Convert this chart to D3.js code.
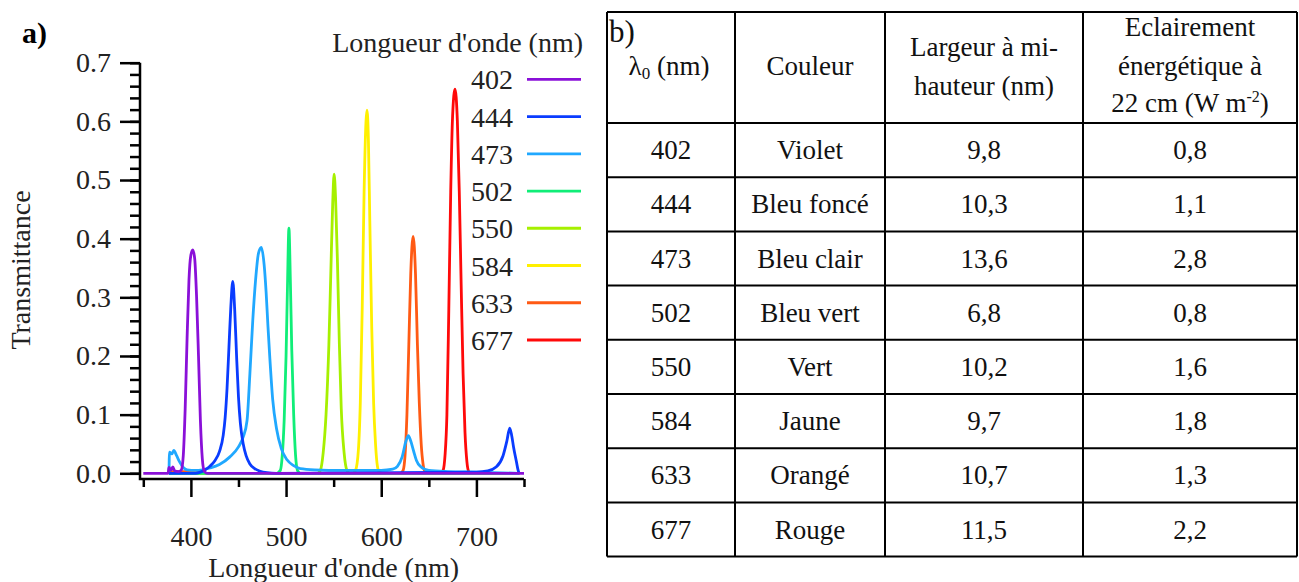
<!DOCTYPE html>
<html>
<head>
<meta charset="utf-8">
<script src="https://cdn.jsdelivr.net/npm/d3@7"></script>
<style>
  body { margin: 0; background: #fff; }
  svg { display: block; font-family: "Liberation Serif", "DejaVu Serif", serif; }
  .axis path, .axis line { stroke: #000; stroke-width: 2.5px; }
  .axis text { font-size: 28px; fill: #222; font-family: "Liberation Serif", serif; }
</style>
</head>
<body>
<svg id="fig"></svg>
<script>
// ---- data ----
const wavelengths = [402, 444, 473, 502, 550, 584, 633, 677];
const lineColors = ["#8a10d8", "#0a3cff", "#20a8ff", "#10ee78", "#a6f000", "#fff000", "#ff5a14", "#ff0a0a"];
const colourNames = ["Violet", "Bleu foncé", "Bleu clair", "Bleu vert", "Vert", "Jaune", "Orangé", "Rouge"];
const halfWidths = ["9,8", "10,3", "13,6", "6,8", "10,2", "9,7", "10,7", "11,5"];
const irradiance = ["0,8", "1,1", "2,8", "0,8", "1,6", "1,8", "1,3", "2,2"];

const yTickValues = [0, 0.1, 0.2, 0.3, 0.4, 0.5, 0.6, 0.7];
const xTickValues = [400, 500, 600, 700];

// transmittance spectra [nm, T]
const spec402 = [[350,0],[376,0],[377,0.01],[379,0.005],[381,0.011],[383,0.004],[387,0.003],[390,0.006],
  [392,0.03],[394,0.11],[396,0.23],[398,0.33],[400,0.372],[402,0.381],[404,0.366],[406,0.3],[408,0.2],
  [410,0.09],[412,0.025],[414,0.004],[417,0],[750,0]];
const spec444 = [[377,0],[405,0],[410,0.002],[415,0.006],[420,0.012],[425,0.021],[430,0.037],[434,0.065],
  [436,0.095],[438,0.145],[440,0.215],[442,0.285],[444,0.327],[446,0.28],[448,0.2],[450,0.13],[452,0.085],
  [455,0.05],[458,0.03],[462,0.016],[467,0.008],[472,0.004],[480,0.001],[490,0],[700,0.002],[712,0.004],
  [721,0.011],[728,0.03],[732,0.055],[735,0.077],[737,0.065],[739,0.045],[742,0.02],[744,0.004],[745,0]];
const spec473 = [[377,0],[377.5,0.036],[380,0.033],[382,0.039],[385,0.03],[388,0.02],[392,0.01],[396,0.006],
  [405,0.005],[412,0.006],[420,0.009],[430,0.015],[441,0.028],[450,0.045],[455,0.062],[459,0.09],[462,0.17],
  [465,0.26],[468,0.33],[471,0.375],[474,0.385],[477,0.355],[479,0.31],[481,0.25],[483,0.195],[486,0.125],
  [490,0.076],[495,0.042],[501,0.023],[508,0.013],[515,0.008],[530,0.006],[560,0.005],[600,0.005],[612,0.007],
  [617,0.012],[622,0.028],[626,0.055],[628.5,0.064],[631,0.055],[634,0.038],[637,0.022],[641,0.012],
  [650,0.005],[670,0.003],[700,0.002],[745,0]];
const spec502 = [[377,0],[490,0],[494,0.005],[496,0.03],[498,0.09],[500,0.2],[501.5,0.32],[503,0.418],
  [504.5,0.33],[506,0.21],[508,0.1],[510,0.03],[512,0.005],[515,0],[745,0]];
const spec550 = [[377,0],[533,0],[536,0.005],[539,0.035],[542,0.1],[545,0.22],[547,0.34],[549,0.46],
  [550.5,0.51],[552,0.47],[554,0.36],[556,0.22],[558,0.11],[561,0.035],[564,0.005],[567,0],[745,0]];
const spec584 = [[377,0],[570,0],[573,0.005],[576,0.04],[578,0.12],[580,0.28],[582,0.48],[584,0.6],
  [585,0.619],[586.5,0.57],[588,0.43],[590,0.25],[592,0.12],[594,0.05],[596,0.012],[598,0.002],[601,0],[745,0]];
const spec633 = [[377,0],[378,0.003],[412,0.003],[414,0],[620,0],[623,0.005],[625,0.03],[627,0.1],[629,0.22],
  [631,0.34],[633.5,0.404],[636,0.34],[638,0.22],[640,0.12],[642,0.05],[644,0.015],[646,0.003],[650,0],[745,0]];
const spec677 = [[377,0],[662,0],[665,0.005],[667,0.03],[669,0.1],[671,0.28],[673,0.48],[675,0.61],
  [677.5,0.655],[680,0.6],[682,0.48],[684,0.32],[686,0.17],[688,0.07],[690,0.02],[692,0.003],[695,0],[745,0]];
const spectra = [spec402, spec444, spec473, spec502, spec550, spec584, spec633, spec677];

// ---- layout ----
const width = 1299, height = 582;
const svg = d3.select("#fig").attr("width", width).attr("height", height);

const x = d3.scaleLinear().domain([350, 750]).range([143.3, 524]);
const y = d3.scaleLinear().domain([0, 0.7]).range([473.3, 62.7]);
const yAxisX = 140, xAxisY = 479;

// panel label
svg.append("text").attr("x", 22).attr("y", 43)
  .attr("font-size", 30).attr("font-weight", "bold").text("a)");

// y axis (minor + major)
svg.append("g").attr("class", "axis")
  .attr("transform", `translate(${yAxisX},0)`)
  .call(d3.axisLeft(y).tickValues(d3.range(0, 36).map(i => i * 0.02)).tickSize(10).tickFormat(""))
  .call(g => g.select(".domain").remove());
svg.append("g").attr("class", "axis")
  .attr("transform", `translate(${yAxisX},0)`)
  .call(d3.axisLeft(y).tickValues(yTickValues).tickSize(20).tickPadding(9).tickFormat(d3.format(".1f")))
  .call(g => g.select(".domain").remove());

// x axis (minor + major)
svg.append("g").attr("class", "axis")
  .attr("transform", `translate(0,${xAxisY})`)
  .call(d3.axisBottom(x).tickValues([350, 450, 550, 650, 750]).tickSize(8).tickFormat(""))
  .call(g => g.select(".domain").remove());
svg.append("g").attr("class", "axis")
  .attr("transform", `translate(0,${xAxisY})`)
  .call(d3.axisBottom(x).tickValues(xTickValues).tickSize(18).tickPadding(29))
  .call(g => g.select(".domain").remove());

// spines
svg.append("path")
  .attr("d", `M${yAxisX},${y(0.7)}V${xAxisY}H${x(750)}`)
  .attr("fill", "none").attr("stroke", "#000").attr("stroke-width", 2.5);

// axis titles
svg.append("text")
  .attr("transform", `translate(30,${(y(0) + y(0.7)) / 2 + 2}) rotate(-90)`)
  .attr("text-anchor", "middle").attr("font-size", 28).attr("fill", "#222")
  .text("Transmittance");
svg.append("text")
  .attr("x", (x(350) + x(750)) / 2).attr("y", 577)
  .attr("text-anchor", "middle").attr("font-size", 28).attr("fill", "#222")
  .text("Longueur d'onde (nm)");

// spectra, violet drawn last so its baseline sits on top
const line = d3.line().x(d => x(d[0])).y(d => y(d[1])).curve(d3.curveMonotoneX);
const order = d3.range(spectra.length).reverse();
svg.append("g").selectAll("path")
  .data(order)
  .join("path")
  .attr("d", i => line(spectra[i]))
  .attr("fill", "none")
  .attr("stroke", i => lineColors[i])
  .attr("stroke-width", 2.8)
  .attr("stroke-linejoin", "round");

// legend
const legend = svg.append("g");
legend.append("text").attr("x", 583).attr("y", 52)
  .attr("text-anchor", "end").attr("font-size", 28).attr("fill", "#222")
  .text("Longueur d'onde (nm)");
const legendY = d3.scaleLinear().domain([0, 7]).range([79.3, 340]);
const items = legend.selectAll("g.item").data(wavelengths).join("g")
  .attr("class", "item")
  .attr("transform", (d, i) => `translate(0,${legendY(i)})`);
items.append("text").attr("x", 513).attr("y", 10)
  .attr("text-anchor", "end").attr("font-size", 28).attr("fill", "#222")
  .text(d => d);
items.append("line").attr("x1", 527).attr("x2", 581)
  .attr("stroke", (d, i) => lineColors[i]).attr("stroke-width", 2.8);

// ---- table b) ----
const colEdges = [607, 735, 885, 1083, 1297];
const headTop = 12, headBottom = 123, rowH = 54.2;
const table = svg.append("g").attr("font-size", 27).attr("fill", "#111");
const rowY = d3.scaleLinear().domain([0, wavelengths.length]).range([headBottom, headBottom + rowH * wavelengths.length]);

const colCenter = i => (colEdges[i] + colEdges[i + 1]) / 2;
const rows = wavelengths.map((w, i) => [String(w), colourNames[i], halfWidths[i], irradiance[i]]);
table.selectAll("g.row").data(rows).join("g")
  .attr("class", "row")
  .attr("transform", (d, i) => `translate(0,${rowY(i) + rowH / 2 + 9})`)
  .selectAll("text").data(d => d).join("text")
  .attr("x", (d, j) => colCenter(j))
  .attr("text-anchor", "middle")
  .text(d => d);

// header
table.append("text").attr("x", 609).attr("y", 42).attr("font-size", 31).text("b)");
const lam = table.append("text").attr("x", 669).attr("y", 75).attr("text-anchor", "middle");
lam.append("tspan").text("λ");
lam.append("tspan").attr("font-size", 17).attr("dy", 4).text("0");
lam.append("tspan").attr("dy", -4).text(" (nm)");
table.append("text").attr("x", colCenter(1)).attr("y", 75).attr("text-anchor", "middle").text("Couleur");
table.append("text").attr("x", colCenter(2)).attr("y", 56).attr("text-anchor", "middle").text("Largeur à mi-");
table.append("text").attr("x", colCenter(2)).attr("y", 95).attr("text-anchor", "middle").text("hauteur (nm)");
table.append("text").attr("x", colCenter(3)).attr("y", 36).attr("text-anchor", "middle").text("Eclairement");
table.append("text").attr("x", colCenter(3)).attr("y", 75).attr("text-anchor", "middle").text("énergétique à");
const irr = table.append("text").attr("x", colCenter(3)).attr("y", 112).attr("text-anchor", "middle");
irr.append("tspan").text("22 cm (W m");
irr.append("tspan").attr("font-size", 16).attr("dy", -10).text("-2");
irr.append("tspan").attr("dy", 10).text(")");

// grid lines
const grid = svg.append("g").attr("stroke", "#000").attr("stroke-width", 2);
const hLines = [headTop].concat(d3.range(wavelengths.length + 1).map(i => rowY(i)));
grid.selectAll("line.h").data(hLines).join("line").attr("class", "h")
  .attr("x1", colEdges[0]).attr("x2", colEdges[colEdges.length - 1])
  .attr("y1", d => d).attr("y2", d => d);
grid.selectAll("line.v").data(colEdges).join("line").attr("class", "v")
  .attr("x1", d => d).attr("x2", d => d)
  .attr("y1", headTop).attr("y2", rowY(wavelengths.length));
</script>
</body>
</html>
